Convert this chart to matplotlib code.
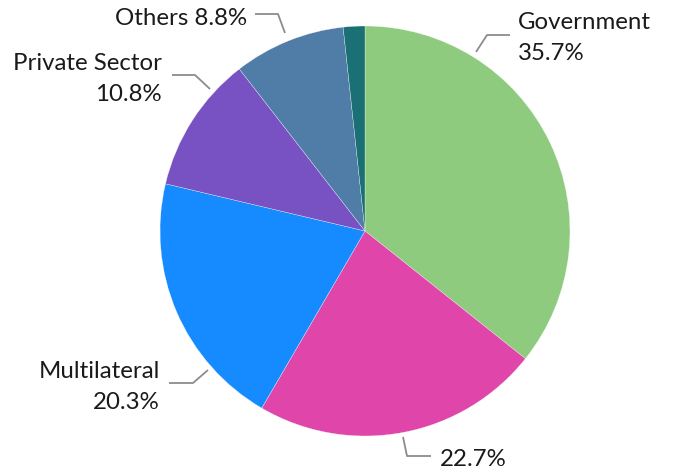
import matplotlib
matplotlib.use("Agg")
import matplotlib.pyplot as plt
import numpy as np

categories = ["Government", "", "Multilateral", "Private Sector", "Others", ""]
values = [35.7, 22.7, 20.3, 10.8, 8.8, 1.7]
colors = ["#8FCB7E", "#E046A9", "#168BFF", "#7851C3", "#507CA8", "#1A7074"]
label_texts = ["Government\n35.7%", "22.7%", "Multilateral\n20.3%",
               "Private Sector\n10.8%", "Others 8.8%", None]

W, H = 678, 473
fig = plt.figure(figsize=(W / 100, H / 100), dpi=100)
cx, cy, R = 365, 231, 205
ax = fig.add_axes([(cx - R) / W, (H - cy - R) / H, 2 * R / W, 2 * R / H])
ax.pie(values, colors=colors, startangle=90, counterclock=False, radius=1,
       wedgeprops=dict(edgecolor="white", linewidth=0.2))
ax.set_xlim(-1, 1)
ax.set_ylim(-1, 1)
ax.set_aspect("equal")
ax.axis("off")

def d(px, py):
    return ((px - cx) / R, (cy - py) / R)

plt.rcParams['font.family'] = ['Lato', 'DejaVu Sans']
fs = 17.3
# label layout (pixel positions): text anchor, ha, leader polyline
layout = [
    ((518, 38), "left", [(476, 52), (487, 35), (510, 35)]),
    ((440, 460), "left", [(403, 437), (407, 456), (431, 456)]),
    ((160, 387), "right", [(208, 370), (193, 383), (169, 383)]),
    ((162, 79), "right", [(210, 89), (195, 75), (172, 75)]),
    ((247, 18), "right", [(285, 33), (278, 14), (255, 14)]),
]
for txt, (pos, ha, line) in zip(label_texts, layout):
    if txt is None:
        continue
    xs, ys = zip(*[d(*p) for p in line])
    ax.plot(xs, ys, color="#8C8C8C", lw=1.3, clip_on=False, solid_capstyle="butt")
    tx, ty = d(*pos)
    ax.text(tx, ty, txt, ha=ha, va="center", fontsize=fs, color="#1A1A1A",
            multialignment=ha, linespacing=1.62, clip_on=False)

fig.savefig("out.png", dpi=100)
